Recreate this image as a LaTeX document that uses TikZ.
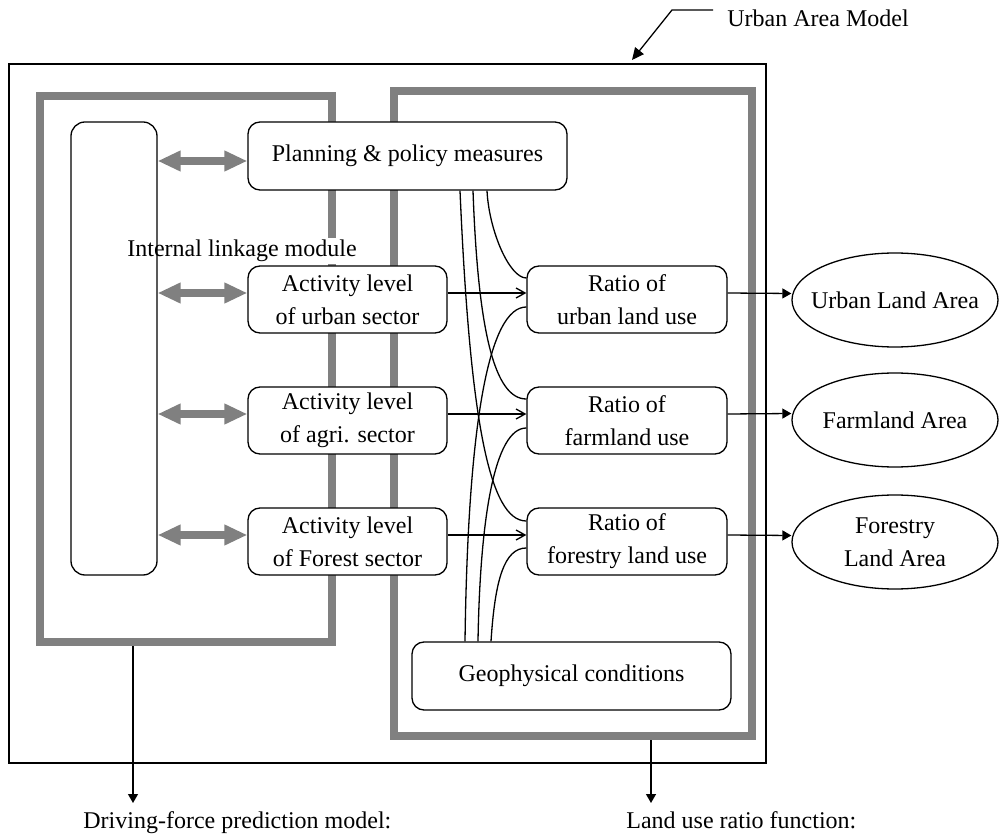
\documentclass[tikz,border=0pt]{standalone}
\usepackage{fontspec}
\setmainfont{Liberation Serif}
\usetikzlibrary{arrows.meta,calc,shapes.geometric}
\definecolor{framegray}{HTML}{808080}
\begin{document}
\begin{tikzpicture}[x=0.5pt,y=-0.5pt,
  every node/.style={font=\fontsize{12}{16.5}\selectfont},
  box/.style={draw, line width=0.65pt, rounded corners=6pt, fill=white,
    align=center, inner sep=0pt},
  grayframe/.style={draw=framegray, line width=4.3pt, inner sep=0pt},
  areanode/.style={ellipse, draw, line width=0.65pt, inner sep=0pt,
    minimum width=103pt, minimum height=47pt},
  link/.style={draw, line width=0.65pt},
  feed/.style={-{Straight Barb[length=4.5pt,width=5pt]}, line width=0.65pt},
  toarea/.style={-{Triangle[length=4.5pt,width=5pt]}, line width=0.65pt},
  twoway/.style={{Triangle[length=11.5pt,width=9.7pt]}-{Triangle[length=11.5pt,width=9.7pt]},
    draw=framegray, line width=3.6pt},
  plain/.style={anchor=base west, inner sep=0pt},
]
\useasboundingbox (0,0) rectangle (1001,839);

% model boundary and the two sub-model frames
\node[draw, line width=0.6pt, inner sep=0pt, minimum width=378.5pt,
  minimum height=349.5pt] (model) at (387.5,413.5) {};
\node[grayframe, minimum width=146pt, minimum height=273pt] (drive) at (186,369) {};
\node[grayframe, minimum width=179pt, minimum height=322.5pt] (ratio) at (573,413.5) {};

% title callout
\node[plain] (modeltitle) at (727,27) {Urban Area Model};
\coordinate (calltail) at (713,10);
\coordinate (callbend) at (672,10);
\coordinate (calltip) at (632,60);
\draw[-{Triangle[length=6pt,width=5.5pt]}, line width=0.65pt]
  (calltail) -- (callbend) -- (calltip);

% internal linkage module
\node[fill=white, inner sep=1pt, anchor=base west] (linklabel) at (125,257) {Internal linkage module};
\node[draw, line width=0.65pt, rounded corners=7pt, inner sep=0pt,
  minimum width=43pt, minimum height=226.5pt] (linkage) at (114,348.5) {};

% driving-force boxes
\node[box, minimum width=159.5pt, minimum height=34pt] (plan) at (407.5,156) {Planning \& policy measures};
\node[box, minimum width=99.5pt, minimum height=33.5pt] (actU) at (347.5,299.5) {Activity level\\of urban sector};
\node[box, minimum width=99.5pt, minimum height=33.5pt] (actA) at (347.5,420.5) {Activity level\\of agri. sector};
\node[box, minimum width=99.5pt, minimum height=33.5pt] (actF) at (347.5,541.5) {Activity level\\of Forest sector};

% land use ratio boxes
\node[box, minimum width=100pt, minimum height=33.5pt] (ratU) at (627,299.5) {Ratio of\\urban land use};
\node[box, minimum width=100pt, minimum height=33.5pt] (ratA) at (627,420.5) {Ratio of\\farmland use};
\node[box, minimum width=100pt, minimum height=33.5pt] (ratF) at (627,541.5) {Ratio of\\forestry land use};
\node[box, minimum width=159.5pt, minimum height=34pt] (geo) at (571.5,676) {Geophysical conditions};

% resulting areas
\node[areanode, label={[align=center]center:Urban Land Area}] (landU) at (895,300) {};
\node[areanode, label={[align=center]center:Farmland Area}] (landA) at (895,420) {};
\node[areanode, label={[align=center]center:Forestry\\Land Area}] (landF) at (895,542) {};

% two-way links with the internal linkage module
\draw[twoway] ($(linkage.east |- plan.west)+(0,5)$) -- ($(plan.west)+(0,5)$);
\draw[twoway] ($(linkage.east |- actU.west)+(0,-6.5)$) -- ($(actU.west)+(0,-6.5)$);
\draw[twoway] ($(linkage.east |- actA.west)+(0,-6.5)$) -- ($(actA.west)+(0,-6.5)$);
\draw[twoway] ($(linkage.east |- actF.west)+(0,-6.5)$) -- ($(actF.west)+(0,-6.5)$);

% activity -> ratio -> area
\draw[feed] ($(actU.east)+(0,-6.5)$) -- ($(ratU.west)+(0,-6.5)$);
\draw[feed] ($(actA.east)+(0,-6.5)$) -- ($(ratA.west)+(0,-6.5)$);
\draw[feed] ($(actF.east)+(0,-6.5)$) -- ($(ratF.west)+(0,-6.5)$);
\draw[toarea] ($(ratU.east)+(0,-6.5)$) -- ($(landU.west)+(0,-6.5)$);
\draw[toarea] ($(ratA.east)+(0,-6.5)$) -- ($(landA.west)+(0,-6.5)$);
\draw[toarea] ($(ratF.east)+(0,-6.5)$) -- ($(landF.west)+(0,-6.5)$);

% planning measures feeding every ratio
\draw[link] ($(plan.south)+(79.5,0)$) .. controls +(2,40) and +(-17,0) .. ($(ratU.west)+(0,-21.5)$);
\draw[link] ($(plan.south)+(65.5,0)$) .. controls +(5,140) and +(-32,0) .. ($(ratA.west)+(0,-21.5)$);
\draw[link] ($(plan.south)+(52.5,0)$) .. controls +(10,230) and +(-37,0) .. ($(ratF.west)+(0,-20.5)$);

% geophysical conditions feeding every ratio
\draw[link] ($(geo.north)+(-106.5,0)$) .. controls +(3,-222) and +(-37,0) .. ($(ratU.west)+(0,7.5)$);
\draw[link] ($(geo.north)+(-93.5,0)$) .. controls +(2,-122) and +(-32,0) .. ($(ratA.west)+(0,7.5)$);
\draw[link] ($(geo.north)+(-80.5,0)$) .. controls +(4,-62) and +(-22,0) .. ($(ratF.west)+(0,6.5)$);

% sub-model captions
\coordinate (driveout) at (133,803);
\coordinate (ratioout) at (651,803);
\draw[toarea] (drive.south -| driveout) -- (driveout);
\draw[toarea] (ratio.south -| ratioout) -- (ratioout);
\node[plain] (drivelabel) at (83,828) {Driving-force prediction model:};
\node[plain] (ratiolabel) at (626,828) {Land use ratio function:};
\end{tikzpicture}
\end{document}
